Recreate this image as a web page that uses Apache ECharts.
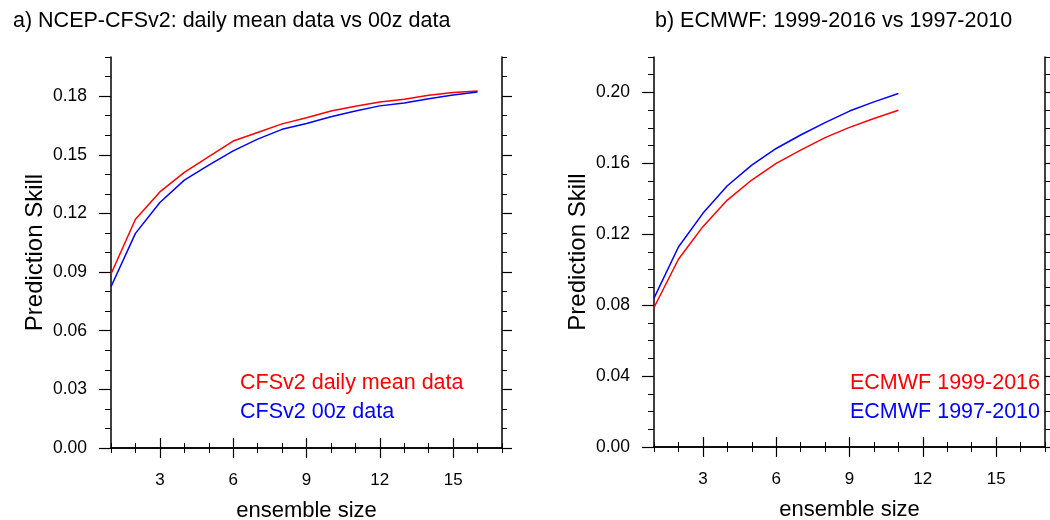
<!DOCTYPE html>
<html>
<head>
<meta charset="utf-8">
<script src="https://cdn.jsdelivr.net/npm/echarts@6/dist/echarts.min.js"></script>
<style>html,body{margin:0;padding:0;background:#fff;}#c{width:1050px;height:520px;}</style>
</head>
<body>
<div id="c"></div>
<script>
// ---- data ----
const ensembleA = [1,2,3,4,5,6,7,8,9,10,11,12,13,14,15,16];
const cfsDailyMean = [0.089,0.117,0.131,0.141,0.149,0.157,0.1614,0.1658,0.1689,0.1724,0.1748,0.177,0.1784,0.1804,0.1818,0.1826];
const cfs00z = [0.0825,0.1098,0.1256,0.137,0.1447,0.152,0.158,0.163,0.166,0.1694,0.1724,0.175,0.1765,0.1787,0.1806,0.1821];
const ensembleB = [1,2,3,4,5,6,7,8,9,10,11];
const ecmwf9916 = [0.0787,0.1059,0.1243,0.1393,0.1506,0.160,0.1675,0.1745,0.1803,0.1853,0.190];
const ecmwf9710 = [0.084,0.1128,0.1318,0.1474,0.159,0.1684,0.176,0.1830,0.1895,0.1947,0.1994];

const xMajorTicks = [3,6,9,12,15];
const xMinorTicks = [1,2,3,4,5,6,7,8,9,10,11,12,13,14,15,16,17];
const yMajorTicksA = [0,0.03,0.06,0.09,0.12,0.15,0.18];
const yMinorTicksA = [0,0.01,0.02,0.03,0.04,0.05,0.06,0.07,0.08,0.09,0.10,0.11,0.12,0.13,0.14,0.15,0.16,0.17,0.18,0.19,0.20];
const yMajorTicksB = [0,0.04,0.08,0.12,0.16,0.20];
const yMinorTicksB = [0,0.01,0.02,0.03,0.04,0.05,0.06,0.07,0.08,0.09,0.10,0.11,0.12,0.13,0.14,0.15,0.16,0.17,0.18,0.19,0.20,0.21,0.22];

const titleA = 'a) NCEP-CFSv2: daily mean data vs 00z data';
const titleB = 'b) ECMWF: 1999-2016 vs 1997-2010';
const namesA = ['CFSv2 daily mean data','CFSv2 00z data'];
const namesB = ['ECMWF 1999-2016','ECMWF 1997-2010'];

// ---- chart ----
const FONT = '"Liberation Sans", Arial, Helvetica, sans-serif';
const RED = '#ff0000', BLUE = '#0000ff';
const chart = echarts.init(document.getElementById('c'), null, {renderer:'canvas'});

function xAxes(grid){
  const line = {show:true, lineStyle:{color:'#000', width:1.5}};
  const base = {type:'value', gridIndex:grid, min:1, max:17, splitLine:{show:false}};
  return [
    Object.assign({}, base, {position:'bottom', axisLine:line,
      axisTick:{show:true, inside:false, length:10, customValues:xMajorTicks, lineStyle:{color:'#000', width:1.2}},
      axisLabel:{show:true, customValues:xMajorTicks, fontSize:17, color:'#000', fontFamily:FONT, margin:24},
      name:'ensemble size', nameLocation:'middle', nameGap:52,
      nameTextStyle:{fontSize:22, color:'#000', fontFamily:FONT}}),
    Object.assign({}, base, {position:'bottom', axisLine:{show:false},
      axisTick:{show:true, length:5, customValues:xMinorTicks, lineStyle:{color:'#000', width:1}},
      axisLabel:{show:false}}),
    Object.assign({}, base, {position:'top', axisLine:line,
      axisTick:{show:true, length:10, customValues:xMajorTicks, lineStyle:{color:'#000', width:1.2}},
      axisLabel:{show:false}}),
    Object.assign({}, base, {position:'top', axisLine:{show:false},
      axisTick:{show:true, length:5, customValues:xMinorTicks, lineStyle:{color:'#000', width:1}},
      axisLabel:{show:false}})
  ];
}
function yAxes(grid, max, major, minor){
  const line = {show:true, lineStyle:{color:'#000', width:1.5}};
  const base = {type:'value', gridIndex:grid, min:0, max:max, splitLine:{show:false}};
  return [
    Object.assign({}, base, {position:'left', axisLine:line,
      axisTick:{show:true, length:12, customValues:major, lineStyle:{color:'#000', width:1.2}},
      axisLabel:{show:true, customValues:major, fontSize:17.5, color:'#000', fontFamily:FONT, margin:24,
        formatter:(v)=>v.toFixed(2)},
      name:'Prediction Skill', nameLocation:'middle', nameRotate:90, nameGap:64,
      nameTextStyle:{fontSize:24, color:'#000', fontFamily:FONT}}),
    Object.assign({}, base, {position:'left', axisLine:{show:false},
      axisTick:{show:true, length:6, customValues:minor, lineStyle:{color:'#000', width:1}},
      axisLabel:{show:false}}),
    Object.assign({}, base, {position:'right', axisLine:line,
      axisTick:{show:true, length:10, customValues:major, lineStyle:{color:'#000', width:1.2}},
      axisLabel:{show:false}}),
    Object.assign({}, base, {position:'right', axisLine:{show:false},
      axisTick:{show:true, length:5, customValues:minor, lineStyle:{color:'#000', width:1}},
      axisLabel:{show:false}})
  ];
}

function pairs(xs, ys){ return xs.map((x,i)=>[x, ys[i]]); }

const option = {
  animation:false,
  backgroundColor:'#fff',
  textStyle:{fontFamily:FONT},
  title:[
    {text:titleA, left:8, top:5, textStyle:{fontSize:21.5, fontWeight:'normal', color:'#000', fontFamily:FONT}},
    {text:titleB, left:650, top:5, textStyle:{fontSize:21.5, fontWeight:'normal', color:'#000', fontFamily:FONT}}
  ],
  grid:[
    {left:111, top:57, width:391, height:391, containLabel:false, outerBoundsMode:'none'},
    {left:654, top:57, width:391, height:390, containLabel:false, outerBoundsMode:'none'}
  ],
  xAxis: xAxes(0).concat(xAxes(1)),
  yAxis: yAxes(0, 0.2, yMajorTicksA, yMinorTicksA).concat(yAxes(1, 0.22, yMajorTicksB, yMinorTicksB)),
  series:[
    {type:'line', name:namesA[0], xAxisIndex:0, yAxisIndex:0, data:pairs(ensembleA, cfsDailyMean), showSymbol:false, lineStyle:{color:RED, width:1.5}, itemStyle:{color:RED}},
    {type:'line', name:namesA[1], xAxisIndex:0, yAxisIndex:0, data:pairs(ensembleA, cfs00z), showSymbol:false, lineStyle:{color:BLUE, width:1.5}, itemStyle:{color:BLUE}},
    {type:'line', name:namesB[0], xAxisIndex:4, yAxisIndex:4, data:pairs(ensembleB, ecmwf9916), showSymbol:false, lineStyle:{color:RED, width:1.5}, itemStyle:{color:RED}},
    {type:'line', name:namesB[1], xAxisIndex:4, yAxisIndex:4, data:pairs(ensembleB, ecmwf9710), showSymbol:false, lineStyle:{color:BLUE, width:1.5}, itemStyle:{color:BLUE}}
  ],
  graphic:[
    {type:'text', left:240, top:372, style:{text:namesA[0], fill:RED, font:'21.5px '+FONT}},
    {type:'text', left:240, top:401, style:{text:namesA[1], fill:BLUE, font:'21.5px '+FONT}},
    {type:'text', right:10, top:372, style:{text:namesB[0], fill:RED, font:'21.5px '+FONT}},
    {type:'text', right:10, top:401, style:{text:namesB[1], fill:BLUE, font:'21.5px '+FONT}}
  ]
};
chart.setOption(option);
</script>
</body>
</html>
